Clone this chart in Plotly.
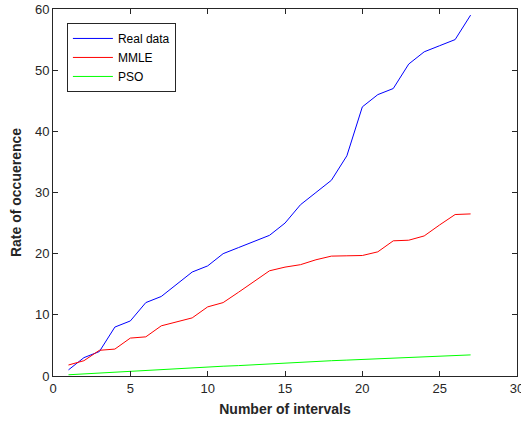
import plotly.graph_objects as go

intervals = list(range(1, 28))
real_data = [1, 3, 4, 8, 9, 12, 13, 15, 17, 18, 20, 21, 22, 23, 25, 28, 30, 32, 36, 44, 46, 47, 51, 53, 54, 55, 59]
mmle = [1.8, 2.5, 4.2, 4.4, 6.2, 6.4, 8.2, 8.9, 9.5, 11.3, 12.0, 13.7, 15.5, 17.2, 17.8, 18.2, 19.0, 19.6, 19.65, 19.7, 20.3, 22.1, 22.2, 22.9, 24.7, 26.4, 26.5]
pso = [0.2, 0.35, 0.45, 0.6, 0.75, 0.9, 1.0, 1.15, 1.3, 1.45, 1.6, 1.7, 1.85, 2.0, 2.15, 2.25, 2.4, 2.5, 2.6, 2.7, 2.8, 2.9, 3.0, 3.1, 3.2, 3.35, 3.45]

x_ticks = [0, 5, 10, 15, 20, 25, 30]
y_ticks = [0, 10, 20, 30, 40, 50, 60]

font_family = "Liberation Sans, Arial, sans-serif"
axis_color = "#262626"

fig = go.Figure()
fig.add_trace(go.Scatter(x=intervals, y=real_data, mode="lines", name="Real data",
                         line=dict(color="#0000ff", width=1)))
fig.add_trace(go.Scatter(x=intervals, y=mmle, mode="lines", name="MMLE",
                         line=dict(color="#ff0000", width=1)))
fig.add_trace(go.Scatter(x=intervals, y=pso, mode="lines", name="PSO",
                         line=dict(color="#00ff00", width=1)))

axis_common = dict(
    showgrid=False, zeroline=False, showline=True, linecolor=axis_color, linewidth=1,
    mirror="allticks", ticks="inside", ticklen=5, tickcolor=axis_color,
    tickfont=dict(family=font_family, size=13, color=axis_color),
    automargin=False, ticklabeloverflow="allow",
)

fig.update_layout(
    width=521, height=423, autosize=False,
    margin=dict(l=53, r=4, t=9, b=47),
    paper_bgcolor="white", plot_bgcolor="white",
    font=dict(family=font_family, color=axis_color),
    showlegend=True,
    legend=dict(x=0.030, y=0.962, xanchor="left", yanchor="top",
                bgcolor="white", bordercolor=axis_color, borderwidth=1,
                font=dict(family=font_family, size=12, color="black"),
                tracegroupgap=0, itemwidth=40),
    xaxis=dict(range=[0, 30], tickvals=x_ticks,
               title=dict(text="<b>Number of intervals</b>", standoff=9,
                          font=dict(family=font_family, size=14, color=axis_color)),
               **axis_common),
    yaxis=dict(range=[0, 60], tickvals=y_ticks,
               title=dict(text="<b>Rate of occuerence</b>", standoff=10,
                          font=dict(family=font_family, size=14, color=axis_color)),
               **axis_common),
)

fig.write_html(
    "out.html",
    config={"responsive": False, "displayModeBar": False},
    post_script="document.body.style.margin='0';document.body.style.overflow='hidden';",
)
